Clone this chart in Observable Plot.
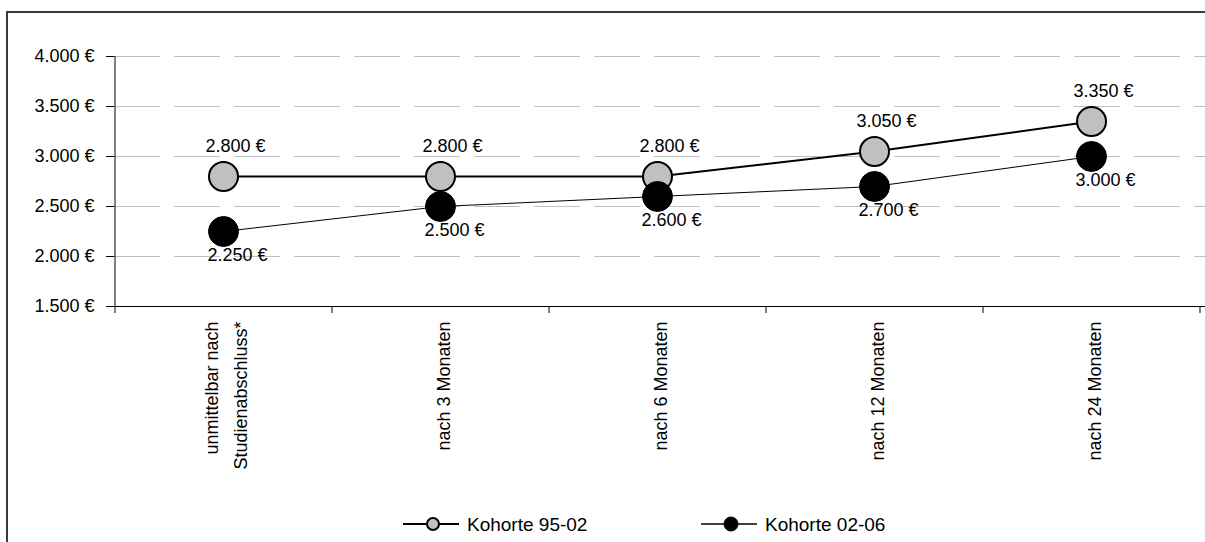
<!DOCTYPE html>
<html>
<head>
<meta charset="utf-8">
<script src="https://cdn.jsdelivr.net/npm/d3@7"></script>
<script src="https://cdn.jsdelivr.net/npm/@observablehq/plot@0.6"></script>
<style>
  html, body { margin: 0; padding: 0; background: #fff; overflow: hidden; }
  #wrap { position: relative; width: 1205px; height: 542px; overflow: hidden; background: #fff;
          font-family: "Liberation Sans", Arial, sans-serif; }
  #chart { position: absolute; left: 0; top: 0; }
  #legend { position: absolute; left: 0; top: 505px; }
  #box { position: absolute; left: 0; top: 0; pointer-events: none; }
</style>
</head>
<body>
<div id="wrap">
  <div id="chart"></div>
  <div id="legend"></div>
  <svg id="box" width="1205" height="542"><path d="M7,542V12H1205" fill="none" stroke="#3a3a3a" stroke-width="2"/></svg>
</div>
<script>
const categories = ["unmittelbar nach\nStudienabschluss*", "nach 3 Monaten", "nach 6 Monaten", "nach 12 Monaten", "nach 24 Monaten"];
const kohorte9502 = [2800, 2800, 2800, 3050, 3350];
const kohorte0206 = [2250, 2500, 2600, 2700, 3000];
const seriesNames = ["Kohorte 95-02", "Kohorte 02-06"];
const seriesFills = ["#c0c0c0", "#000000"];
const yTicks = [1500, 2000, 2500, 3000, 3500, 4000];

const FONT = '"Liberation Sans", Arial, sans-serif';
const de = d3.formatLocale({decimal: ",", thousands: ".", grouping: [3], currency: ["", " €"]});
const fmt = d => de.format(",")(d) + " €";

const d95 = categories.map((c, i) => ({cat: c, v: kohorte9502[i]}));
const d02 = categories.map((c, i) => ({cat: c, v: kohorte0206[i]}));

const W = 1205, H = 505, ML = 114, MR = 6;
const bw = (W - ML - MR) / categories.length;

const chart = Plot.plot({
  width: W, height: H,
  marginTop: 56, marginBottom: H - 306, marginLeft: ML, marginRight: MR,
  style: {fontFamily: FONT, fontSize: "18px", color: "#000", background: "#fff", overflow: "visible"},
  x: {type: "point", domain: categories, padding: 0.5, axis: null},
  y: {domain: [1500, 4000], axis: null},
  marks: [
    Plot.gridY(yTicks.filter(t => t > 1500), {stroke: "#c0c0c0", strokeOpacity: 1, strokeWidth: 1, strokeDasharray: "46,14", insetRight: -MR}),
    Plot.ruleY([1500], {stroke: "#000", strokeWidth: 1, insetRight: -MR}),
    Plot.ruleX([categories[0]], {x: d => d, dx: -bw / 2, y1: 1430, y2: 4000, stroke: "#000"}),
    Plot.ruleX(categories, {x: d => d, dx: bw / 2, y1: 1500, y2: 1430, stroke: "#000"}),
    Plot.axisY({ticks: yTicks, tickFormat: fmt, tickSize: 8, tickPadding: 12, fontSize: 18, stroke: "#000", label: null}),
    Plot.text(categories, {x: d => d, frameAnchor: "bottom", text: d => d, rotate: -90, textAnchor: "end", lineAnchor: "middle", lineHeight: 1.6, dy: 15, fontSize: 18, fill: "#000"}),
    Plot.line(d95, {x: "cat", y: "v", stroke: "#000", strokeWidth: 2}),
    Plot.line(d02, {x: "cat", y: "v", stroke: "#000", strokeWidth: 1}),
    Plot.dot(d95, {x: "cat", y: "v", r: 14.5, fill: seriesFills[0], stroke: "#000", strokeWidth: 2}),
    Plot.dot(d02, {x: "cat", y: "v", r: 15, fill: seriesFills[1], stroke: "#000", strokeWidth: 1}),
    Plot.text(d95, {x: "cat", y: "v", text: d => fmt(d.v), dy: -30, dx: 12, fontSize: 18, fill: "#000"}),
    Plot.text(d02, {x: "cat", y: "v", text: d => fmt(d.v), dy: 24, dx: 14, fontSize: 18, fill: "#000"})
  ]
});
document.getElementById("chart").appendChild(chart);

// legend
const lg = d3.select("#legend").append("svg").attr("width", W).attr("height", 37)
  .style("font-family", FONT).style("font-size", "19px");
const legendX = [403, 701];
seriesNames.forEach((name, i) => {
  const g = lg.append("g").attr("transform", `translate(${legendX[i]},19)`);
  g.append("line").attr("x1", 0).attr("x2", 56).attr("y1", 0).attr("y2", 0).attr("stroke", "#000").attr("stroke-width", i === 0 ? 2 : 1.5);
  g.append("circle").attr("cx", 30).attr("cy", 0).attr("r", i === 0 ? 6 : 7)
    .attr("fill", seriesFills[i]).attr("stroke", "#000").attr("stroke-width", i === 0 ? 2 : 1);
  g.append("text").attr("x", 64).attr("y", 0).attr("dy", "0.35em").attr("fill", "#000").text(name);
});
</script>
</body>
</html>
